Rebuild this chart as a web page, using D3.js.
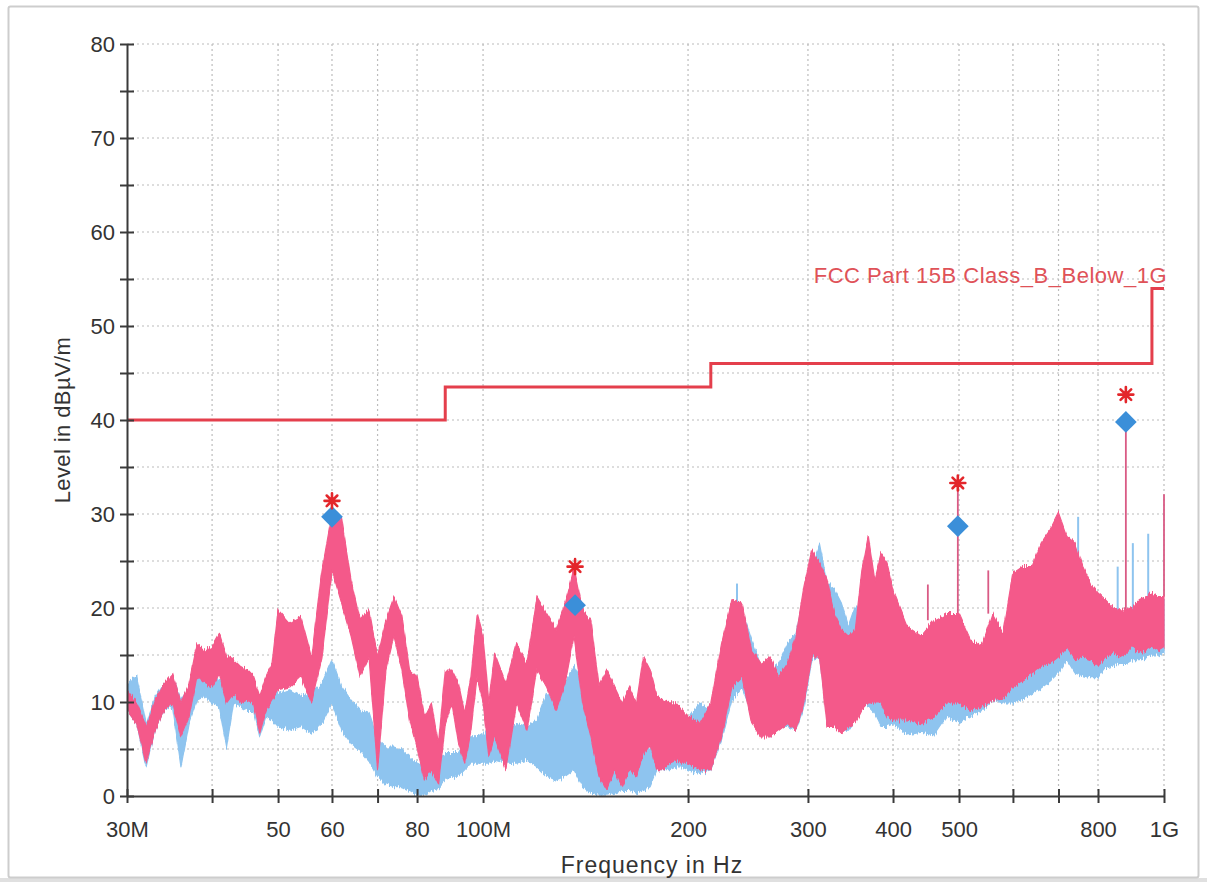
<!DOCTYPE html>
<html>
<head>
<meta charset="utf-8">
<script src="https://cdn.jsdelivr.net/npm/d3@7"></script>
<style>
  html, body { margin: 0; padding: 0; background: #fff; }
  svg { display: block; font-family: "Liberation Sans", Arial, Helvetica, sans-serif; }
</style>
</head>
<body>
<svg id="chart" width="1207" height="882"></svg>
<script>
// ---- Sweep frequencies (MHz) ----
const freqMHz = [
  30,31,32,33,34,35,36,37,38,39,40,41,42,43,44,45,46,47,48,49,50,
  52,54,56,58,60,62,64,66,68,70,72,74,76,78,80,82,84,86,88,90,92,94,96,98,100,
  102,104,108,112,116,120,124,128,132,136,140,144,148,152,156,160,164,168,172,176,180,184,188,192,196,200,
  208,216,224,232,240,248,256,264,272,280,288,296,304,312,320,328,336,344,352,360,368,376,384,392,400,
  420,440,460,480,500,520,540,560,580,600,620,640,660,680,700,720,740,760,780,800,820,840,860,880,900,920,940,960,980,1000
];

// ---- Peak detector trace: upper / lower envelope (dBµV/m) ----
const peakHi = [
  11.3,9.9,7.4,10.2,12.0,13.0,9.9,12.0,16.2,15.5,15.9,17.3,14.8,14.5,13.8,13.4,12.7,10.6,12.7,14.1,19.8,
  18.4,19.1,14.8,24.0,30.0,29.4,23.0,18.7,19.8,14.8,18.7,21.2,19.1,13.4,12.7,8.4,9.9,5.6,13.4,13.4,12.0,8.8,12.7,19.4,17.0,
  9.9,15.2,12.0,16.2,14.1,21.2,19.4,17.7,20.5,24.2,19.8,18.7,11.6,13.4,11.6,9.9,11.6,9.9,14.8,13.4,10.6,10.2,9.9,9.9,9.1,8.4,
  7.7,9.9,16.2,20.9,20.5,15.5,14.1,14.8,12.7,14.1,17.0,22.3,26.2,24.8,23.0,19.4,17.7,17.0,17.7,24.0,27.6,23.0,25.8,24.8,21.9,
  18.0,17.0,18.7,19.4,19.4,16.6,15.9,19.4,17.3,23.7,24.4,24.4,26.9,28.3,30.1,27.6,26.9,24.4,22.6,21.6,20.9,20.1,19.8,19.8,20.1,20.9,21.2,21.6,21.2,21.2
];
const peakLo = [
  9.1,7.7,3.5,7.0,9.1,9.9,6.3,8.4,12.7,12.0,11.6,13.0,9.9,10.9,9.9,10.2,9.9,6.7,9.1,10.2,11.3,
  11.6,12.7,9.9,14.8,24.0,20.5,17.0,12.7,14.8,2.8,13.4,17.0,13.4,8.1,5.2,1.7,2.8,1.3,7.7,9.9,5.6,3.5,7.0,12.7,9.9,
  4.2,6.3,2.8,9.9,7.0,13.4,11.6,9.1,12.0,17.0,9.9,6.3,2.1,0.6,2.8,1.0,2.8,2.1,4.5,5.6,2.8,2.8,3.5,3.8,3.5,3.5,
  2.8,2.8,6.3,11.6,12.7,7.7,6.3,6.3,7.0,7.7,7.0,9.9,14.8,14.8,7.4,7.4,6.7,7.4,7.7,9.1,9.9,9.9,9.9,8.4,8.1,
  8.1,7.7,8.4,9.9,9.9,9.1,9.5,10.2,10.3,11.6,12.3,13.0,13.8,14.1,14.8,15.9,14.5,14.8,14.5,13.8,14.8,15.2,14.8,15.2,15.9,15.2,15.5,15.9,15.5,15.9
];

// ---- Average detector trace: upper / lower envelope (dBµV/m) ----
const avgHi = [
  12.0,12.7,7.7,10.6,12.0,12.7,10.2,11.6,13.4,13.0,12.7,12.4,11.6,13.4,12.7,12.0,11.6,10.2,11.6,11.6,10.9,
  11.3,10.6,10.9,12.0,14.5,11.6,10.2,9.1,8.8,6.0,5.2,5.2,4.9,4.2,3.5,3.1,3.8,4.2,4.5,4.5,4.5,5.6,6.3,6.3,6.7,
  6.7,8.1,7.0,7.7,7.4,8.1,10.9,10.2,12.0,13.8,12.0,6.0,4.5,5.2,4.5,5.2,4.9,5.6,5.2,5.2,7.7,7.0,7.4,7.7,8.1,8.1,
  9.9,9.1,14.8,17.7,19.8,16.6,13.8,13.4,14.1,16.2,17.3,21.5,24.4,26.8,22.6,22.0,20.5,18.0,20.1,20.1,23.0,21.0,22.0,21.6,19.8,
  17.3,17.0,17.7,18.4,17.3,15.9,15.2,18.4,16.6,21.2,22.6,23.0,25.5,27.0,28.3,26.5,25.5,23.4,21.6,21.2,20.5,19.8,19.4,19.4,19.8,20.5,20.9,21.2,20.9,20.9
];
const avgLo = [
  9.1,7.7,3.1,7.0,9.1,9.5,3.1,7.7,10.2,10.6,9.9,9.5,5.2,9.9,9.5,9.1,9.1,6.3,8.4,8.1,7.4,
  7.0,7.4,6.7,7.7,9.9,7.0,5.6,4.9,3.8,2.1,1.3,1.0,1.0,0.6,0.1,0.1,0.6,0.8,1.7,2.1,2.1,2.8,3.5,3.5,3.5,
  3.5,3.8,3.5,3.5,3.8,3.1,2.1,1.7,2.1,2.8,1.0,0.3,0.1,0.1,0.3,0.6,0.6,0.3,0.6,1.0,2.8,2.8,2.8,3.1,3.1,2.8,
  2.4,2.8,6.0,10.2,11.6,8.8,6.7,6.3,7.4,7.4,7.0,9.5,14.5,14.8,8.1,7.4,7.0,7.0,8.1,9.5,9.5,8.8,7.4,7.4,7.7,
  6.5,6.8,6.5,8.5,7.8,8.5,9.1,10.2,9.9,9.9,10.3,10.9,11.5,12.2,13.1,14.5,13.1,12.8,12.6,12.6,13.6,13.8,14.1,14.1,14.5,14.5,14.8,15.0,15.0,15.2
];

// ---- Narrow-band spikes ----
const peakSpikeFreq  = [450, 498, 552, 879, 1000];
const peakSpikeLevel = [22.5, 33.3, 24.0, 39.8, 32.1];
const avgSpikeFreq   = [236, 748, 855, 900, 948];
const avgSpikeLevel  = [22.6, 29.7, 24.4, 26.9, 27.9];

// ---- Final measurement points ----
const markerFreq = [60, 136.5, 498, 879];
const markerPeak = [31.4, 24.4, 33.3, 42.7];
const markerQP   = [29.7, 20.3, 28.7, 39.8];

// ---- Limit line FCC Part 15B Class B ----
const limitFreq  = [30, 88, 88, 216, 216, 960, 960, 1000];
const limitLevel = [40, 40, 43.5, 43.5, 46, 46, 54, 54];
const limitName  = "FCC Part 15B Class_B_Below_1G";

// ---- Axes ----
const xTickValues = [30, 40, 50, 60, 70, 80, 100, 200, 300, 400, 500, 600, 700, 800, 1000];
const xTickLabels = ["30M", "", "50", "60", "", "80", "100M", "200", "300", "400", "500", "", "", "800", "1G"];
const yTickValues = [0, 5, 10, 15, 20, 25, 30, 35, 40, 45, 50, 55, 60, 65, 70, 75, 80];
const xTitle = "Frequency in Hz";
const yTitle = "Level in dBµV/m";

// ---------------------------------------------------------------
const W = 1207, H = 882;
const plot = { left: 127, right: 1164, top: 44, bottom: 796 };
const svg = d3.select("#chart");

const x = d3.scaleLog().domain([30, 1000]).range([plot.left, plot.right]);
const y = d3.scaleLinear().domain([0, 80]).range([plot.bottom, plot.top]);

// receiver noise texture for the sweep bands (vertical-only edge jitter)
const defs = svg.append("defs");
const flt = defs.append("filter").attr("id", "sweep")
  .attr("x", "-1%").attr("y", "-10%").attr("width", "102%").attr("height", "120%")
  .attr("color-interpolation-filters", "sRGB");
flt.append("feTurbulence").attr("type", "fractalNoise")
  .attr("baseFrequency", "0.9 0.03").attr("numOctaves", 2).attr("seed", 7).attr("result", "n");
flt.append("feColorMatrix").attr("in", "n").attr("type", "matrix")
  .attr("values", "1 0 0 0 0  0 0 0 0 0.5  0 0 0 0 0  0 0 0 0 1").attr("result", "m");
flt.append("feDisplacementMap").attr("in", "SourceGraphic").attr("in2", "m")
  .attr("scale", 9).attr("xChannelSelector", "G").attr("yChannelSelector", "R");

// page frame
svg.append("rect").attr("width", W).attr("height", H).attr("fill", "#ffffff");
svg.append("rect").attr("x", 0).attr("y", 878).attr("width", W).attr("height", 4).attr("fill", "#e0e0e0");
svg.append("rect")
  .attr("x", 8.5).attr("y", 6.5).attr("width", 1190).attr("height", 871).attr("rx", 2)
  .attr("fill", "#ffffff").attr("stroke", "#cdcdcd").attr("stroke-width", 2);

// dotted grid
const grid = svg.append("g")
  .attr("stroke", "#bcbcbc").attr("stroke-width", 1.2).attr("stroke-dasharray", "2,3");
grid.selectAll("line.h").data(yTickValues.filter(v => v > 0)).join("line")
  .attr("x1", plot.left).attr("x2", plot.right)
  .attr("y1", d => y(d)).attr("y2", d => y(d));
grid.selectAll("line.v").data(xTickValues.filter(v => v > 30)).join("line")
  .attr("x1", d => x(d)).attr("x2", d => x(d))
  .attr("y1", plot.top).attr("y2", plot.bottom);

// trace bands
const band = (hi, lo) => d3.area()
  .x((d, i) => x(freqMHz[i]))
  .y0((d, i) => y(lo[i]))
  .y1((d, i) => y(hi[i]))(freqMHz);

const nearestHi = (f, hi) => {
  const i = d3.minIndex(freqMHz, v => Math.abs(Math.log(v / f)));
  return hi[i];
};

const colAvg = "#8ec4ef", colPk = "#f4598a";
const traces = svg.append("g").attr("clip-path", "url(#plotClip)");
defs.append("clipPath").attr("id", "plotClip").append("rect")
  .attr("x", plot.left).attr("y", plot.top).attr("width", plot.right - plot.left + 1)
  .attr("height", plot.bottom - plot.top);

traces.append("path").attr("d", band(avgHi, avgLo)).attr("filter", "url(#sweep)")
  .attr("fill", colAvg).attr("stroke", colAvg).attr("stroke-width", 1.2).attr("stroke-linejoin", "round");

traces.append("g").selectAll("line").data(avgSpikeFreq).join("line")
  .attr("x1", d => x(d)).attr("x2", d => x(d))
  .attr("y1", (d, i) => y(avgSpikeLevel[i]))
  .attr("y2", d => y(nearestHi(d, avgHi)))
  .attr("stroke", colAvg).attr("stroke-width", 2);

traces.append("g").selectAll("line").data(peakSpikeFreq).join("line")
  .attr("x1", d => x(d)).attr("x2", d => x(d))
  .attr("y1", (d, i) => y(peakSpikeLevel[i]))
  .attr("y2", d => y(nearestHi(d, peakHi)))
  .attr("stroke", "#d95b85").attr("stroke-width", 1.8);

traces.append("path").attr("d", band(peakHi, peakLo)).attr("filter", "url(#sweep)")
  .attr("fill", colPk).attr("stroke", colPk).attr("stroke-width", 1.2).attr("stroke-linejoin", "round");

// limit line
svg.append("path")
  .attr("d", d3.line().x((d, i) => x(limitFreq[i])).y((d, i) => y(limitLevel[i]))(limitFreq))
  .attr("fill", "none").attr("stroke", "#e43f4c").attr("stroke-width", 3);
svg.append("text")
  .attr("x", 1167).attr("y", 283).attr("text-anchor", "end")
  .attr("font-size", 22).attr("letter-spacing", 0.5).attr("fill", "#df5258")
  .text(limitName);

// axes
const yAxis = svg.append("g").attr("transform", `translate(${plot.left},0)`)
  .call(d3.axisLeft(y).tickValues(yTickValues).tickSizeInner(7).tickSizeOuter(0).tickPadding(5)
    .tickFormat(d => d % 10 === 0 ? d : ""));
const xAxis = svg.append("g").attr("transform", `translate(0,${plot.bottom})`)
  .call(d3.axisBottom(x).tickValues(xTickValues).tickSizeInner(7).tickSizeOuter(0).tickPadding(18)
    .tickFormat((d, i) => xTickLabels[i]));

[yAxis, xAxis].forEach(g => {
  g.select(".domain").attr("stroke", "#3a3a3a").attr("stroke-width", 2);
  g.selectAll(".tick line").attr("stroke", "#3a3a3a").attr("stroke-width", 2);
  g.selectAll(".tick text").attr("fill", "#333").attr("font-size", 22)
    .attr("font-family", "'Liberation Sans', Arial, sans-serif");
});
yAxis.selectAll(".tick line").attr("x1", 7);
xAxis.selectAll(".tick line").attr("y1", -7);

svg.append("text")
  .attr("x", 652).attr("y", 873).attr("text-anchor", "middle")
  .attr("font-size", 23).attr("letter-spacing", 1).attr("fill", "#333").text(xTitle);
svg.append("text")
  .attr("transform", "translate(70,420) rotate(-90)").attr("text-anchor", "middle")
  .attr("font-size", 22).attr("letter-spacing", 0.4).attr("fill", "#333").text(yTitle);

// measurement markers
const diamond = d3.symbol().type(d3.symbolDiamond2).size(300);
svg.append("g").selectAll("path").data(markerFreq).join("path")
  .attr("transform", (d, i) => `translate(${x(d)},${y(markerQP[i])})`)
  .attr("d", diamond).attr("fill", "#3b8fd9");

const star = (r) => {
  const p = d3.path();
  for (let k = 0; k < 4; k++) {
    const a = k * Math.PI / 4;
    p.moveTo(-r * Math.cos(a), -r * Math.sin(a));
    p.lineTo(r * Math.cos(a), r * Math.sin(a));
  }
  return p.toString();
};
svg.append("g").selectAll("path").data(markerFreq).join("path")
  .attr("transform", (d, i) => `translate(${x(d)},${y(markerPeak[i])})`)
  .attr("d", star(7.5)).attr("fill", "none")
  .attr("stroke", "#e3262b").attr("stroke-width", 2.6).attr("stroke-linecap", "round");
</script>
</body>
</html>
